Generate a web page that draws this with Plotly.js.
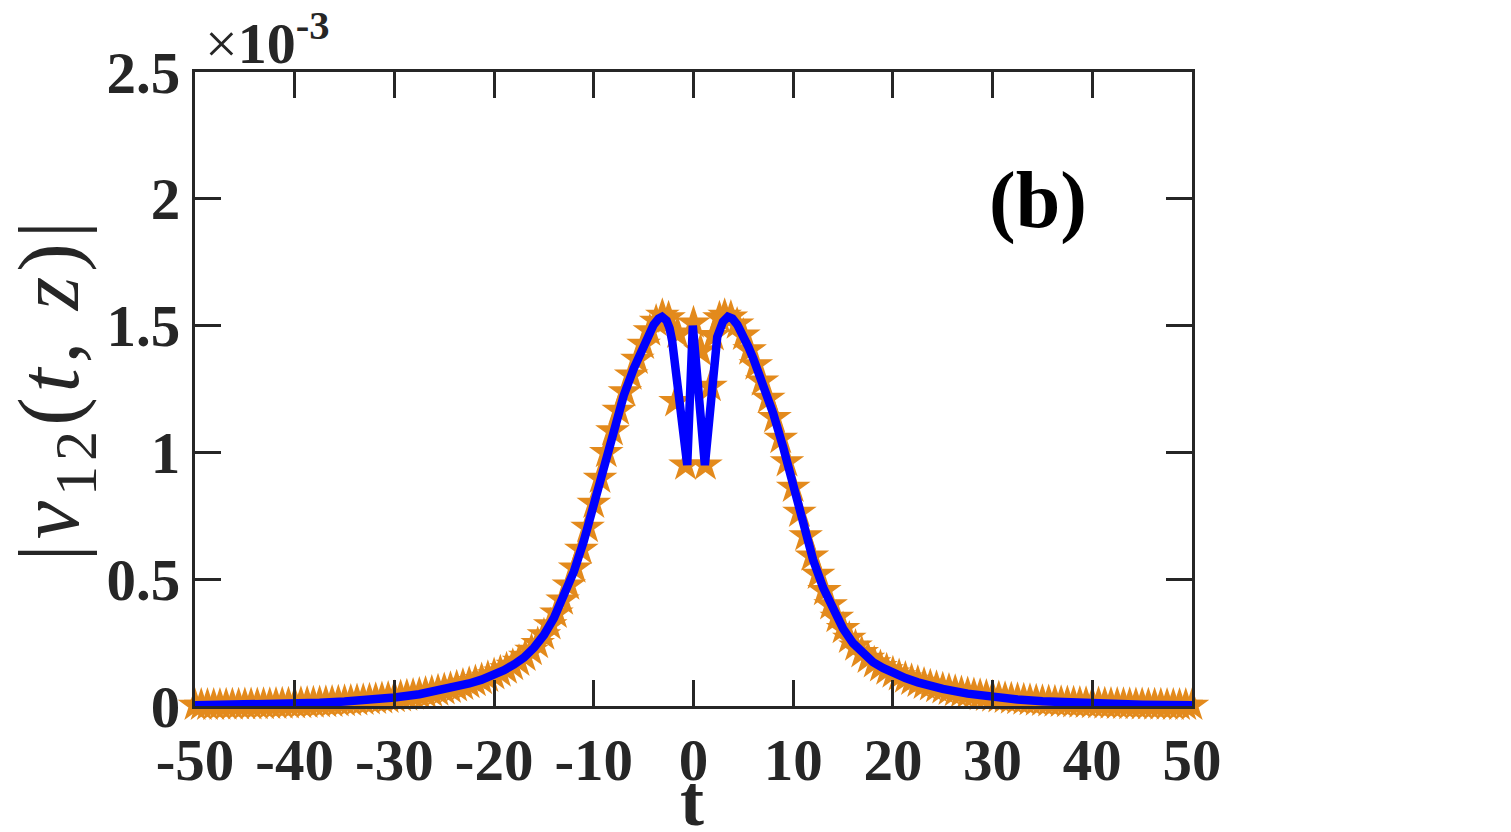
<!DOCTYPE html>
<html>
<head>
<meta charset="utf-8">
<script src="https://cdn.plot.ly/plotly-3.0.1.min.js"></script>
<style>
  html, body { margin: 0; padding: 0; background: #ffffff; }
  #chart { width: 1511px; height: 832px; }
</style>
</head>
<body>
<div id="chart"></div>
<script>
// Sampled solution |v12(t,z)| (star markers), values in units of 1e-3
const tStar = [
  -50, -49.375, -48.75, -48.125, -47.5, -46.875, -46.25, -45.625, -45, -44.375,
  -43.75, -43.125, -42.5, -41.875, -41.25, -40.625, -40, -39.375, -38.75, -38.125,
  -37.5, -36.875, -36.25, -35.625, -35, -34.375, -33.75, -33.125, -32.5, -31.875,
  -31.25, -30.625, -30, -29.375, -28.75, -28.125, -27.5, -26.875, -26.25, -25.625,
  -25, -24.375, -23.75, -23.125, -22.5, -21.875, -21.25, -20.625, -20, -19.375,
  -18.75, -18.125, -17.5, -16.875, -16.25, -15.625, -15, -14.375, -13.75, -13.125,
  -12.5, -11.875, -11.25, -10.625, -10, -9.375, -8.75, -8.125, -7.5, -6.875,
  -6.25, -5.625, -5, -4.375, -3.75, -3.125,
  -2.5, -1.8, -1.6, -0.8, 0, 0.7, 1.2, 1.7, 2.0, 2.6,
  3.125, 3.75, 4.375, 5, 5.625, 6.25, 6.875, 7.5, 8.125, 8.75,
  9.375, 10, 10.625, 11.25, 11.875, 12.5, 13.125, 13.75, 14.375, 15,
  15.625, 16.25, 16.875, 17.5, 18.125, 18.75, 19.375, 20, 20.625, 21.25,
  21.875, 22.5, 23.125, 23.75, 24.375, 25, 25.625, 26.25, 26.875, 27.5,
  28.125, 28.75, 29.375, 30, 30.625, 31.25, 31.875, 32.5, 33.125, 33.75,
  34.375, 35, 35.625, 36.25, 36.875, 37.5, 38.125, 38.75, 39.375, 40,
  40.625, 41.25, 41.875, 42.5, 43.125, 43.75, 44.375, 45, 45.625, 46.25,
  46.875, 47.5, 48.125, 48.75, 49.375, 50
];
const vStar = [
  0.0025, 0.0027, 0.0029, 0.0032, 0.0035, 0.0038, 0.0041, 0.0044, 0.0048, 0.0052,
  0.0056, 0.0061, 0.0066, 0.0072, 0.0078, 0.0084, 0.0092, 0.0099, 0.0108, 0.0117,
  0.0127, 0.0137, 0.0149, 0.0162, 0.0175, 0.019, 0.0206, 0.0223, 0.0242, 0.0263,
  0.0285, 0.0309, 0.0335, 0.0364, 0.0395, 0.0428, 0.0464, 0.0503, 0.0546, 0.0592,
  0.0642, 0.0696, 0.0755, 0.0819, 0.0888, 0.0963, 0.104, 0.113, 0.123, 0.134,
  0.146, 0.160, 0.176, 0.196, 0.219, 0.246, 0.280, 0.320, 0.366, 0.418,
  0.477, 0.544, 0.618, 0.704, 0.799, 0.898, 0.999, 1.085, 1.166, 1.239,
  1.305, 1.367, 1.426, 1.479, 1.517, 1.540,
  1.53, 1.20, 1.47, 0.95, 1.51, 1.40, 0.95, 1.26, 1.46, 1.53,
  1.540, 1.533, 1.506, 1.462, 1.404, 1.345, 1.281, 1.213, 1.137, 1.055,
  0.963, 0.862, 0.764, 0.671, 0.591, 0.519, 0.455, 0.399, 0.349, 0.305,
  0.267, 0.236, 0.210, 0.188, 0.170, 0.155, 0.142, 0.130, 0.119, 0.110,
  0.101, 0.0934, 0.0861, 0.0794, 0.0732, 0.0675, 0.0622, 0.0574, 0.0529, 0.0488,
  0.045, 0.0415, 0.0382, 0.0352, 0.0325, 0.03, 0.0276, 0.0255, 0.0235, 0.0217,
  0.02, 0.0184, 0.017, 0.0157, 0.0144, 0.0133, 0.0123, 0.0113, 0.0104, 0.0096,
  0.0089, 0.0082, 0.0075, 0.0069, 0.0064, 0.0059, 0.0054, 0.005, 0.0046, 0.0043,
  0.0039, 0.0036, 0.0033, 0.0031, 0.0028, 0.0026
];

// Reference curve (solid blue line), values in units of 1e-3
const tLine = [
  -50, -47.5, -45, -42.5, -40, -37.5, -35, -32.5, -30, -27.5,
  -25, -23.75, -22.5, -21.25, -20, -19, -18, -17, -16, -15,
  -14, -13, -12, -11, -10, -9, -8, -7, -6, -5,
  -4.5, -4, -3.5, -3.16, -2.7, -2.4, -2.14, -0.63, -0.07, 1.14,
  2.38, 2.65, 2.95, 3.45, 3.9, 4.4, 4.9, 5.5, 6, 7,
  8, 9, 10, 11, 12, 13, 14, 15, 16, 17,
  18, 19, 20, 21.25, 22.5, 23.75, 25, 27.5, 30, 32.5,
  35, 37.5, 40, 42.5, 45, 47.5, 50
];
const vLine = [
  0.0025, 0.0034, 0.0048, 0.0066, 0.0091, 0.0126, 0.0175, 0.0242, 0.0335, 0.0463,
  0.0641, 0.0755, 0.0887, 0.104, 0.123, 0.141, 0.164, 0.191, 0.230, 0.280,
  0.347, 0.430, 0.530, 0.651, 0.799, 0.959, 1.102, 1.224, 1.330, 1.426,
  1.469, 1.503, 1.528, 1.535, 1.52, 1.49, 1.44, 0.95, 1.50, 0.95,
  1.455, 1.49, 1.515, 1.535, 1.528, 1.503, 1.469, 1.416, 1.37, 1.268,
  1.153, 1.02, 0.862, 0.708, 0.576, 0.467, 0.378, 0.305, 0.248, 0.206,
  0.173, 0.150, 0.130, 0.110, 0.0934, 0.0794, 0.0675, 0.0488, 0.0352, 0.0255,
  0.0184, 0.0133, 0.0096, 0.0069, 0.005, 0.0036, 0.0026
];

const xTicks = [-50, -40, -30, -20, -10, 0, 10, 20, 30, 40, 50];
const xTickText = ['-50', '-40', '-30', '-20', '-10', '0', '10', '20', '30', '40', '50'];
const yTicks = [0, 0.5, 1, 1.5, 2, 2.5];
const yTickText = ['0', '0.5', '1', '1.5', '2', '2.5'];

const ink = '#262626';
const serif = 'Liberation Serif, Times New Roman, serif';

const traces = [
  {
    x: tStar, y: vStar, type: 'scatter', mode: 'markers',
    marker: { symbol: 'star', size: 26, color: '#E38A1C', line: { width: 0 } },
    cliponaxis: false, hoverinfo: 'x+y'
  },
  {
    x: tLine, y: vLine, type: 'scatter', mode: 'lines',
    line: { color: '#0000FF', width: 8.5 },
    cliponaxis: false, hoverinfo: 'x+y'
  }
];

const axisCommon = {
  showgrid: false, zeroline: false,
  showline: true, linecolor: ink, linewidth: 3,
  mirror: 'ticks', ticks: 'inside', ticklen: 26, tickwidth: 3, tickcolor: ink,
  tickfont: { family: serif, size: 59, color: ink, weight: 'bold' }
};

const layout = {
  width: 1511, height: 832,
  paper_bgcolor: '#ffffff', plot_bgcolor: '#ffffff',
  showlegend: false,
  margin: { l: 195, r: 319, t: 72, b: 126 },
  xaxis: Object.assign({}, axisCommon, {
    range: [-50, 50], tickmode: 'array', tickvals: xTicks, ticktext: xTickText,
    ticklabelstandoff: 0
  }),
  yaxis: Object.assign({}, axisCommon, {
    range: [0, 2.5], tickmode: 'array', tickvals: yTicks, ticktext: yTickText,
    ticklabelstandoff: 0
  }),
  annotations: [
    {
      // axis title t
      xref: 'paper', yref: 'paper', x: 0.4985, y: -0.15,
      xanchor: 'center', yanchor: 'middle', showarrow: false,
      text: '<b>t</b>',
      font: { family: serif, size: 72, color: ink }
    },
    {
      // axis title |v12(t,z)|
      xref: 'paper', yref: 'paper', x: -0.14, y: 0.5,
      xanchor: 'center', yanchor: 'middle', textangle: -90, showarrow: false,
      text: '<span style="letter-spacing:5px">|<i>v</i><sub>12</sub>(<i>t</i>, <i>z</i>)|</span>',
      font: { family: serif, size: 86, color: ink }
    },
    {
      // exponent multiplier of the y axis
      xref: 'paper', yref: 'paper', x: 0.008, y: 1.0, xanchor: 'left', yanchor: 'bottom',
      yshift: -6, showarrow: false,
      text: '×<b>10</b><sup><b>-3</b></sup>',
      font: { family: serif, size: 58, color: ink }
    },
    {
      // panel label
      xref: 'paper', yref: 'paper', x: 0.846, y: 0.797, xanchor: 'center', yanchor: 'middle',
      showarrow: false,
      text: '<b>(b)</b>',
      font: { family: serif, size: 80, color: '#000000' }
    }
  ]
};

Plotly.newPlot('chart', traces, layout, { displayModeBar: false, staticPlot: true });
</script>
</body>
</html>
